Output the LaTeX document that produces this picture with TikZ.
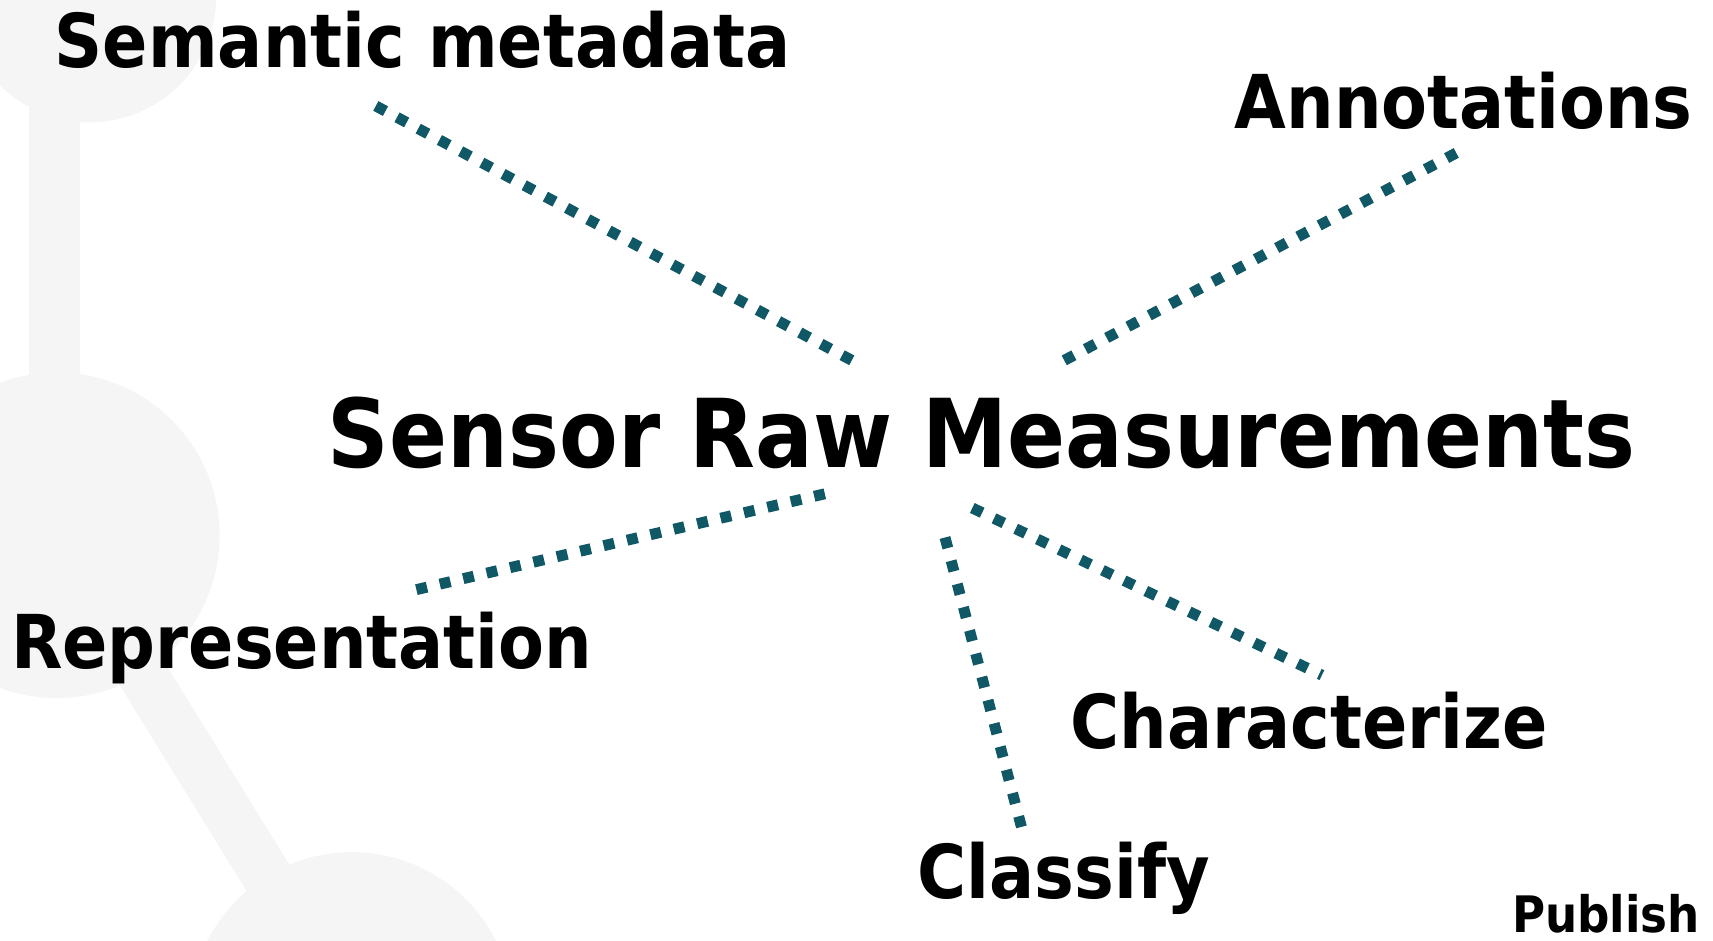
\documentclass[tikz,border=0pt]{standalone}
\usepackage{fontspec}
\setmainfont{DejaVu Sans Condensed}
\usetikzlibrary{positioning, calc}
\definecolor{linkteal}{RGB}{16,88,102}
\definecolor{molgray}{RGB}{245,245,245}
\tikzset{
  tagtext/.style={anchor=base west, inner sep=0pt, font=\bfseries\fontsize{68}{80}\selectfont},
  hubtext/.style={tagtext, font=\bfseries\fontsize{87}{100}\selectfont},
  link/.style={draw=linkteal, line width=10pt, dash pattern=on 10pt off 12pt},
  bond/.style={draw=molgray, line width=46pt}
}

\begin{document}
\begin{tikzpicture}[x=1pt, y=-1pt]
    \useasboundingbox (0,0) rectangle (1568,861);
    \begin{scope}
    \clip (0,0) rectangle (1568,861);
    \fill[molgray] (82,-4) circle (116);
    \fill[molgray] (52,490) circle (149);
    \fill[molgray] (322,928) circle (148);
    \draw[bond] (50,0) -- (50,490);
    \draw[bond] (52,490) -- (322,928);
    \end{scope}
    \node[hubtext] (hub) at (300,428) {Sensor Raw Measurements};
    \node[tagtext] (sem) at (50,62) {Semantic metadata};
    \node[tagtext] (ann) at (1130,118) {Annotations};
    \node[tagtext] (rep) at (10,612) {Representation};
    \node[tagtext] (chr) at (980,685) {Characterize};
    \node[tagtext] (cls) at (840,822) {Classify};
    \node[tagtext, font=\bfseries\fontsize{46}{56}\selectfont] (pub) at (1384,854) {Publish};
    \coordinate (sem-a) at (344,97);
    \coordinate (sem-b) at (780,330);
    \coordinate (ann-a) at (1333,140);
    \coordinate (ann-b) at (972,331);
    \coordinate (rep-a) at (755,452);
    \coordinate (rep-b) at (380,540);
    \coordinate (cls-a) at (865,492);
    \coordinate (cls-b) at (935,757);
    \coordinate (chr-a) at (890,465);
    \coordinate (chr-b) at (1210,618);
    \draw[link] (sem-a) -- (sem-b);
    \draw[link] (ann-a) -- (ann-b);
    \draw[link] (rep-a) -- (rep-b);
    \draw[link] (cls-a) -- (cls-b);
    \draw[link] (chr-a) -- (chr-b);
\end{tikzpicture}
\end{document}
